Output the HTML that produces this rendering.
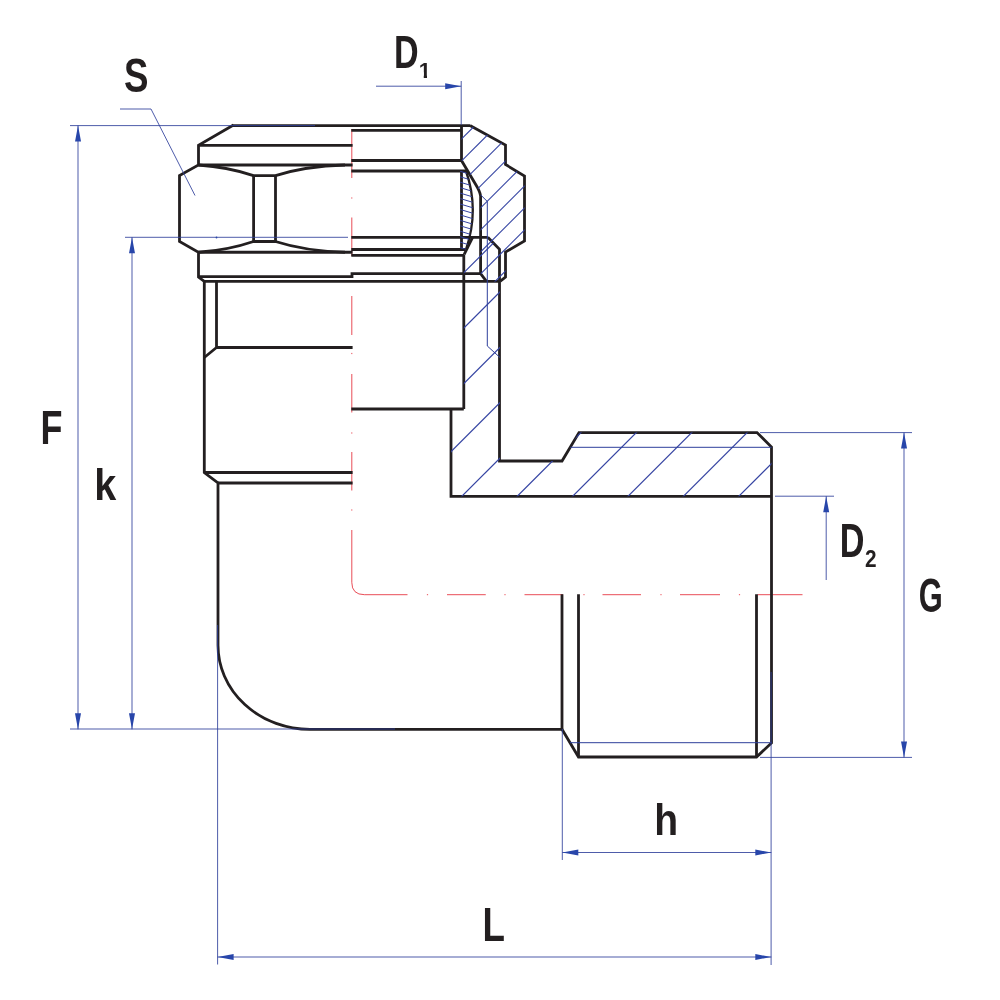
<!DOCTYPE html>
<html><head><meta charset="utf-8"><title>Fitting drawing</title>
<style>
html,body{margin:0;padding:0;background:#fff;}
svg{display:block;font-family:"Liberation Sans",sans-serif;}
.k{stroke:#231f20;stroke-width:2.8;fill:none;stroke-linecap:butt;stroke-linejoin:miter;}
.b{stroke:#2e3f9b;stroke-width:0.85;fill:none;}
.h{stroke:#3443a2;stroke-width:1.2;fill:none;}
.r{stroke:#e2202c;stroke-width:0.8;fill:none;}
.a{fill:#2846aa;stroke:none;}
.t{fill:#231f20;font-size:100px;opacity:0.999;}
</style></head>
<body>
<svg width="1000" height="1000" viewBox="0 0 1000 1000">
<rect width="1000" height="1000" fill="#fff"/>
<defs>
<clipPath id="cn"><path d="M461.5,125.6 L470,125.6 L505.5,145 V164.5 L524.5,176 V241 L505.5,252 V277 L500,281.4 H486.5 L480.6,273.6 V196 Q480,191.5 476,185 L461.5,160.5 Z"/></clipPath>
<clipPath id="cb"><path d="M463.8,254.4 L472.6,237.3 H487.8 L500,249.5 V461 H562 L579,432.6 H757 L771.5,447 V496.2 H451 V409 H463.8 Z"/></clipPath>
<clipPath id="c1"><path d="M0,-75 H37.6 V2 H22.6 V-25 H0 Z"/></clipPath>
<clipPath id="cs"><path d="M460.2,171 H466 Q479.6,210 466,249.5 H460.2 Z"/></clipPath>
</defs>

<!-- red centre lines -->
<g class="r"><line x1="351.8" y1="129" x2="351.8" y2="178"/><line x1="351.8" y1="217.5" x2="351.8" y2="256"/><line x1="351.8" y1="296" x2="351.8" y2="335"/><line x1="351.8" y1="374" x2="351.8" y2="412.5"/><line x1="351.8" y1="452" x2="351.8" y2="490.5"/><line x1="351.8" y1="197.4" x2="351.8" y2="198.6"/><line x1="351.8" y1="275.9" x2="351.8" y2="277.1"/><line x1="351.8" y1="352.9" x2="351.8" y2="354.1"/><line x1="351.8" y1="432.4" x2="351.8" y2="433.6"/><line x1="351.8" y1="509.4" x2="351.8" y2="510.6"/><path d="M351.8,530 V582.5 Q351.8,594.7 364.5,594.7 H407.5"/><line x1="447" y1="594.7" x2="485.75" y2="594.7"/><line x1="524.5" y1="594.7" x2="563" y2="594.7"/><line x1="602.5" y1="594.7" x2="641" y2="594.7"/><line x1="680" y1="594.7" x2="720" y2="594.7"/><line x1="757.5" y1="594.7" x2="802.5" y2="594.7"/><line x1="426.9" y1="594.7" x2="428.1" y2="594.7"/><line x1="504.4" y1="594.7" x2="505.6" y2="594.7"/><line x1="583.4" y1="594.7" x2="584.6" y2="594.7"/><line x1="660.4" y1="594.7" x2="661.6" y2="594.7"/><line x1="738.9" y1="594.7" x2="740.1" y2="594.7"/></g>

<!-- black outlines: nut, external half -->
<g class="k">
<path d="M232.5,125.6 H470"/>
<path d="M233.5,125 L198.5,145.4 V165 L179.5,175.6 V241.4 L198.5,252.25 V277 L204.3,281.4"/>
<path d="M198.5,145.4 H352.6"/>
<path d="M198.5,165 H352.6"/>
<path d="M198.5,252.25 H352.6"/>
<path d="M198.5,276.7 H352 V273.6 H480.6 L486.5,281.4"/>
<path d="M203.5,281.4 H500"/>
<path d="M198.5,165 Q228,167 253.5,175.6 H275.5 Q305,166.2 345,165"/>
<path d="M198.5,252.25 Q228,250.2 253.5,241.5 H275.5 Q305,251 345,252.25"/>
<path d="M253.6,175.6 V241.5 M275.5,175.6 V241.5"/>
</g>
<!-- nut, sectioned half -->
<g class="k">
<path d="M351.3,130.3 H461.5 M351.3,160.5 H461.5 M351.3,171 H466.5 M351.3,237.3 H487.8 M351.3,249.5 H465.5 M351.3,255.4 H464"/>
<path d="M461.5,125.6 V160.5 L476,185 Q480,191.5 480.6,196 V273.6"/>
<path d="M470,125.6 L505.5,145 V164.5 L524.5,176 V241 L505.5,252 V277 L500,281.4"/>
<path d="M461.5,171 V249.5"/>
<path d="M466,171 Q479.6,210 466,249.5" style="stroke-width:2.3"/>
<path d="M472.6,237.3 L464.2,254.4"/>
<path d="M487.8,237.3 L499.5,249.2 V281.4"/>
</g>
<!-- body, external half -->
<g class="k">
<path d="M204.3,281.4 V472.5 L218,483 V645 A92,84 0 0 0 310,729.3 H562"/>
<path d="M216.5,281.4 V347.5 H352.6 M216.5,347.5 L204.3,357.5"/>
<path d="M204.3,472.5 H352.6 M218,483 H352.6"/>
</g>
<!-- body, sectioned half + male thread -->
<g class="k">
<path d="M351.3,409 H463.8 M463.8,254.4 V409"/>
<path d="M451,408 V496.4 H771.5"/>
<path d="M499.5,281.4 V461 H562 L579,432.6 H757 L771.5,447 V743 L756.5,757 H578.5 L562,729.3"/>
<path d="M562,594.2 V729.3 M578.5,594.2 V757 M756.5,594.2 V757"/>
</g>

<!-- hatching -->
<g class="h" clip-path="url(#cn)"><line x1="455" y1="145.50" x2="530" y2="70.50"/><line x1="455" y1="167.50" x2="530" y2="92.50"/><line x1="455" y1="189.50" x2="530" y2="114.50"/><line x1="455" y1="211.50" x2="530" y2="136.50"/><line x1="455" y1="233.50" x2="530" y2="158.50"/><line x1="455" y1="255.50" x2="530" y2="180.50"/><line x1="455" y1="277.50" x2="530" y2="202.50"/><line x1="455" y1="299.50" x2="530" y2="224.50"/><line x1="455" y1="321.50" x2="530" y2="246.50"/></g>
<g class="h" clip-path="url(#cb)"><line x1="445" y1="291.50" x2="780" y2="-43.50"/><line x1="445" y1="346.90" x2="780" y2="11.90"/><line x1="445" y1="402.30" x2="780" y2="67.30"/><line x1="445" y1="457.70" x2="780" y2="122.70"/><line x1="445" y1="513.10" x2="780" y2="178.10"/><line x1="445" y1="568.50" x2="780" y2="233.50"/><line x1="445" y1="623.90" x2="780" y2="288.90"/><line x1="445" y1="679.30" x2="780" y2="344.30"/><line x1="445" y1="734.70" x2="780" y2="399.70"/><line x1="445" y1="790.10" x2="780" y2="455.10"/></g>
<g class="h" clip-path="url(#cs)" style="stroke-width:1"><line x1="459" y1="165.50" x2="476" y2="170.60"/><line x1="459" y1="170.95" x2="476" y2="176.05"/><line x1="459" y1="176.40" x2="476" y2="181.50"/><line x1="459" y1="181.85" x2="476" y2="186.95"/><line x1="459" y1="187.30" x2="476" y2="192.40"/><line x1="459" y1="192.75" x2="476" y2="197.85"/><line x1="459" y1="198.20" x2="476" y2="203.30"/><line x1="459" y1="203.65" x2="476" y2="208.75"/><line x1="459" y1="209.10" x2="476" y2="214.20"/><line x1="459" y1="214.55" x2="476" y2="219.65"/><line x1="459" y1="220.00" x2="476" y2="225.10"/><line x1="459" y1="225.45" x2="476" y2="230.55"/><line x1="459" y1="230.90" x2="476" y2="236.00"/><line x1="459" y1="236.35" x2="476" y2="241.45"/><line x1="459" y1="241.80" x2="476" y2="246.90"/><line x1="459" y1="247.25" x2="476" y2="252.35"/><line x1="459" y1="252.70" x2="476" y2="257.80"/></g>

<!-- thin blue thread lines -->
<g class="b" style="stroke-width:1">
<path d="M480.8,195 L487.3,201.5 V346 L500,357.5"/>
<line x1="570.3" y1="447.3" x2="771.5" y2="447.3"/>
<line x1="570" y1="742.7" x2="771.5" y2="742.7"/>
</g>

<!-- dimension lines -->
<g class="b">
<path d="M70,125.6 H315"/>
<path d="M78,125.6 V729.3"/>
<path d="M70,729 H395"/>
<path d="M125,237.3 H348"/>
<path d="M132,237.3 V729.3"/>
<path d="M120,109 H151 L195,195.5"/>
<path d="M376,86.2 H461.2"/>
<path d="M461.2,81 V125"/>
<path d="M760,432.6 H912"/>
<path d="M904,432.6 V757.4"/>
<path d="M760,757.4 H912"/>
<path d="M775,496.2 H834"/>
<path d="M826.2,496.2 V580"/>
<path d="M562.3,729 V860"/>
<path d="M562.3,852.5 H771.3"/>
<path d="M217.6,625 V964.5"/>
<path d="M217.6,957 H771.3"/>
<path d="M771.1,672 V965"/>
</g>
<g class="a">
<polygon points="78.00,125.60 75.00,141.60 81.00,141.60"/><polygon points="78.00,729.30 75.00,713.30 81.00,713.30"/>
<polygon points="132.00,237.30 129.00,253.30 135.00,253.30"/><polygon points="132.00,729.30 129.00,713.30 135.00,713.30"/>
<polygon points="461.20,86.20 445.20,83.20 445.20,89.20"/>
<polygon points="904.00,432.60 901.00,448.60 907.00,448.60"/><polygon points="904.00,757.40 901.00,741.40 907.00,741.40"/>
<polygon points="826.20,496.20 823.20,512.20 829.20,512.20"/>
<polygon points="562.30,852.50 578.30,849.50 578.30,855.50"/><polygon points="771.30,852.50 755.30,849.50 755.30,855.50"/>
<polygon points="217.60,957.00 233.60,954.00 233.60,960.00"/><polygon points="771.30,957.00 755.30,954.00 755.30,960.00"/>
<circle cx="216.5" cy="237.5" r="0.9"/>
</g>

<!-- labels -->
<g class="t">
<text transform="matrix(0.3667 0 0 0.4718 123.90 92.03)" font-weight="bold">S</text>
<text transform="matrix(0.3410 0 0 0.4696 394.11 68.40)" font-weight="bold">D</text>
<text transform="matrix(0.2181 0 0 0.2282 418.82 77.90)" font-weight="bold" clip-path="url(#c1)">1</text>
<text transform="matrix(0.3600 0 0 0.4783 40.48 444.00)" font-weight="bold">F</text>
<text transform="matrix(0.3958 0 0 0.4521 94.23 500.00)" font-weight="bold">k</text>
<text transform="matrix(0.3676 0 0 0.4855 482.43 941.00)" font-weight="bold">L</text>
<text transform="matrix(0.3906 0 0 0.4521 654.27 835.50)" font-weight="bold">h</text>
<text transform="matrix(0.3426 0 0 0.4739 839.70 557.20)" font-weight="bold">D</text>
<text transform="matrix(0.2082 0 0 0.2329 864.98 566.90)" font-weight="bold">2</text>
<text transform="matrix(0.3088 0 0 0.4789 918.76 611.52)" font-weight="bold">G</text>
</g>
</svg>
</body></html>
